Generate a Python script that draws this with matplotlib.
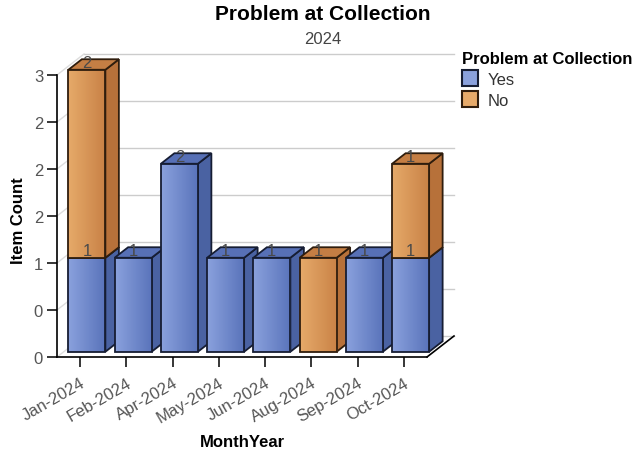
import numpy as np
import matplotlib
matplotlib.use("Agg")
import matplotlib.pyplot as plt
from matplotlib.patches import Polygon, Rectangle, Patch
from matplotlib.lines import Line2D
from matplotlib.transforms import Affine2D, IdentityTransform
from matplotlib.colors import to_rgb

plt.rcParams["font.family"] = ["Liberation Sans", "DejaVu Sans"]

# ---- data -------------------------------------------------------------
months = ["Jan-2024", "Feb-2024", "Apr-2024", "May-2024",
          "Jun-2024", "Aug-2024", "Sep-2024", "Oct-2024"]
yes_counts = [1, 1, 2, 1, 1, 0, 1, 1]
no_counts = [2, 0, 0, 0, 0, 1, 0, 1]
series_names = ["Yes", "No"]
y_ticks = [0, 0.5, 1, 1.5, 2, 2.5, 3]
y_tick_labels = ["0", "0", "1", "2", "2", "2", "3"]

# ---- styling ----------------------------------------------------------
FRONT = {"Yes": ("#8aa1dd", "#5a74bb"), "No": ("#e6aa6a", "#c98246")}
SIDE = {"Yes": "#4a62a2", "No": "#b7713a"}
TOP = {"Yes": "#5770b6", "No": "#c47e44"}
EDGE = {"Yes": "#161d33", "No": "#2f1d0d"}
DEPTH = np.array([27.0, 21.0])      # full floor depth in pixels (x, y)
BAR_FRONT, BAR_BACK = 0.25, 0.75    # bar position inside the depth
BAR_W = 0.8
WALL_GRID = "#cccccc"
TICK_COLOR = "#555555"

fig = plt.figure(figsize=(6.42, 4.52), dpi=100)
ax = fig.add_axes([57 / 642, 94 / 452, 370 / 642, 282 / 452])
x_lo, x_hi = -0.5, len(months) - 0.5
ax.set_xlim(x_lo, x_hi)
ax.set_ylim(0, 3)
ax.set_autoscale_on(False)


def shifted(frac):
    """Data transform pushed back into the depth by a fraction."""
    return ax.transData + Affine2D().translate(*(DEPTH * frac))


def to_px(x, y, frac):
    return ax.transData.transform((x, y)) + DEPTH * frac


def px_line(p0, p1, **kw):
    ln = Line2D([p0[0], p1[0]], [p0[1], p1[1]],
                transform=IdentityTransform(), clip_on=False, **kw)
    ax.add_artist(ln)


# ---- walls and floor --------------------------------------------------
for v in y_ticks:
    ax.plot([x_lo, x_hi], [v, v], color=WALL_GRID, lw=1.0,
            transform=shifted(1.0), clip_on=False, zorder=1)
    px_line(to_px(x_lo, v, 0), to_px(x_lo, v, 1), color="#dddddd",
            lw=1.0, zorder=1)
px_line(to_px(x_hi, 0, 0), to_px(x_hi, 0, 1), color="black", lw=1.2,
        zorder=2)


# ---- bars -------------------------------------------------------------
def gradient(c0, c1, n=64):
    a, b = np.array(to_rgb(c0)), np.array(to_rgb(c1))
    t = np.linspace(0, 1, n)[:, None]
    return (a + (b - a) * t)[None, :, :]


def draw_segment(i, y0, y1, name, z):
    x0, x1 = i - BAR_W / 2, i + BAR_W / 2
    side = [to_px(x1, y0, BAR_FRONT), to_px(x1, y1, BAR_FRONT),
            to_px(x1, y1, BAR_BACK), to_px(x1, y0, BAR_BACK)]
    ax.add_artist(Polygon(side, closed=True, facecolor=SIDE[name],
                          edgecolor=EDGE[name], lw=1.3, clip_on=False,
                          transform=IdentityTransform(), zorder=z))
    top = [to_px(x0, y1, BAR_FRONT), to_px(x1, y1, BAR_FRONT),
           to_px(x1, y1, BAR_BACK), to_px(x0, y1, BAR_BACK)]
    ax.add_artist(Polygon(top, closed=True, facecolor=TOP[name],
                          edgecolor=EDGE[name], lw=1.3, clip_on=False,
                          transform=IdentityTransform(), zorder=z))
    tr = shifted(BAR_FRONT)
    im = ax.imshow(gradient(*FRONT[name]), extent=(x0, x1, y0, y1),
                   aspect="auto", interpolation="bilinear",
                   transform=tr, zorder=z + 0.1)
    im.set_clip_on(False)
    ax.add_artist(Rectangle((x0, y0), x1 - x0, y1 - y0, fill=False,
                            edgecolor=EDGE[name], lw=1.3, transform=tr,
                            clip_on=False, zorder=z + 0.2))


labels = []
for i in range(len(months)):
    base = 0
    for k, (name, counts) in enumerate(zip(series_names, [yes_counts, no_counts])):
        c = counts[i]
        if c == 0:
            continue
        draw_segment(i, base, base + c, name, 3 + i + 0.4 * k)
        labels.append((i, base + c, c))
        base += c

ax.set_xlim(x_lo, x_hi)
ax.set_ylim(0, 3)

for i, top_val, c in labels:
    ax.text(i, top_val, str(c), ha="center", va="bottom", fontsize=12,
            color="#4a4a4a", transform=shifted(BAR_FRONT), clip_on=False,
            zorder=30)

# ---- axes -------------------------------------------------------------
for s in ("top", "right"):
    ax.spines[s].set_visible(False)
for s in ("left", "bottom"):
    ax.spines[s].set_color("black")
    ax.spines[s].set_linewidth(1.2)
    ax.spines[s].set_zorder(2)
ax.patch.set_visible(False)

ax.set_yticks(y_ticks)
ax.set_yticklabels(y_tick_labels)
ax.set_xticks(range(len(months)))
ax.set_xticklabels(months, rotation=30, ha="right", rotation_mode="anchor")
ax.tick_params(axis="both", direction="out", length=7, width=1.1,
               color="black", labelcolor=TICK_COLOR, labelsize=12)
ax.tick_params(axis="y", pad=3)
ax.tick_params(axis="x", pad=6)

ax.set_xlabel("MonthYear", fontsize=12, fontweight="bold", va="center")
ax.xaxis.set_label_coords(0.5, (358 - 443) / 282)
ax.set_ylabel("Item Count", fontsize=12, fontweight="bold", va="center")
ax.yaxis.set_label_coords((18 - 57) / 370, 0.5 - 4 / 282)

fig.text(323 / 642, 1 - 15 / 452, "Problem at Collection", ha="center",
         va="center", fontsize=15, fontweight="bold")
fig.text(323 / 642, 1 - 40 / 452, "2024", ha="center", va="center",
         fontsize=12, color="#444444")

handles = [Patch(facecolor=FRONT[n][0], edgecolor=EDGE[n], lw=1.5, label=n)
           for n in series_names]
leg = fig.legend(handles=handles, title="Problem at Collection",
                 loc="upper left", bbox_to_anchor=(462 / 642, 1 - 52 / 452),
                 frameon=False, alignment="left",
                 title_fontproperties={"weight": "bold", "size": 12},
                 fontsize=12, handlelength=0.95, handleheight=1.1,
                 handletextpad=0.6, labelspacing=0.25, borderpad=0,
                 borderaxespad=0)
for t in leg.get_texts():
    t.set_color("#333333")

fig.savefig("out.png", dpi=100)
